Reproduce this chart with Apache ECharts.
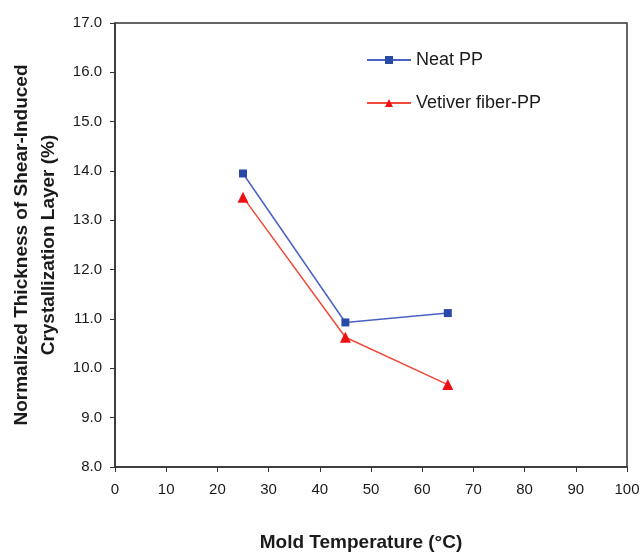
<!DOCTYPE html>
<html><head><meta charset="utf-8">
<script src="https://cdn.jsdelivr.net/npm/echarts@6/dist/echarts.min.js"></script>
<style>html,body{margin:0;padding:0;background:#fff}#c{width:640px;height:552px}</style>
</head><body><div id="c"></div>
<script>
const temps = [25, 45, 65];
const neatPP = [13.95, 10.93, 11.12];
const vetiverPP = [13.47, 10.63, 9.67];
const seriesNames = ['Neat PP', 'Vetiver fiber-PP'];
const xTitle = 'Mold Temperature (°C)';
const yTitle = 'Normalized Thickness of Shear-Induced\nCrystallization Layer (%)';

const font = 'Liberation Sans, Arial, sans-serif';
const chart = echarts.init(document.getElementById('c'));
chart.setOption({
  animation: false,
  backgroundColor: '#fff',
  grid: {left: 115, right: 13, top: 23, bottom: 85, show: true, borderColor: '#333', borderWidth: 1.5,
         containLabel: false, outerBoundsMode: 'none'},
  legend: {
    orient: 'vertical', left: 361, top: 46, itemWidth: 44, itemHeight: 10, itemGap: 25,
    textStyle: {fontFamily: font, fontSize: 18, color: '#1a1a1a'},
    data: seriesNames
  },
  xAxis: {
    type: 'value', min: 0, max: 100, interval: 10,
    name: xTitle, nameLocation: 'middle', nameGap: 66,
    nameTextStyle: {fontFamily: font, fontSize: 19, fontWeight: 'bold', color: '#1a1a1a', padding: [0, 20, 0, 0]},
    axisLine: {show: true, onZero: false, lineStyle: {color: '#333', width: 1.5}},
    axisTick: {show: true, length: 5, lineStyle: {color: '#333'}},
    axisLabel: {fontFamily: font, fontSize: 15, color: '#1a1a1a', margin: 15},
    splitLine: {show: false}
  },
  yAxis: {
    type: 'value', min: 8, max: 17, interval: 1,
    name: yTitle, nameLocation: 'middle', nameGap: 53, nameRotate: 90,
    nameTextStyle: {fontFamily: font, fontSize: 19, fontWeight: 'bold', color: '#1a1a1a', lineHeight: 27},
    axisLine: {show: true, lineStyle: {color: '#333', width: 1.5}},
    axisTick: {show: true, length: 5, lineStyle: {color: '#333'}},
    axisLabel: {fontFamily: font, fontSize: 15, color: '#1a1a1a', margin: 13, formatter: v => v.toFixed(1)},
    splitLine: {show: false}
  },
  series: [
    {name: seriesNames[0], type: 'line', data: temps.map((t, i) => [t, neatPP[i]]),
     symbol: 'rect', symbolSize: 8, lineStyle: {color: '#4a62c4', width: 1.5},
     itemStyle: {color: '#2a4aa8'}},
    {name: seriesNames[1], type: 'line', data: temps.map((t, i) => [t, vetiverPP[i]]),
     symbol: 'triangle', symbolSize: 11, lineStyle: {color: '#f04a3a', width: 1.5},
     itemStyle: {color: '#ee1111'}}
  ]
});
</script></body></html>
